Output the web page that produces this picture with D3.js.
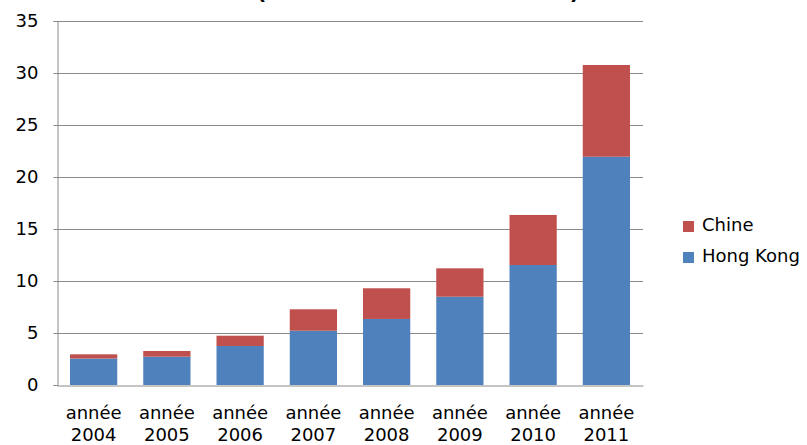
<!DOCTYPE html>
<html>
<head>
<meta charset="utf-8">
<script src="https://cdn.jsdelivr.net/npm/d3@7"></script>
<style>
  html, body { margin: 0; padding: 0; background: #fff; }
  svg { display: block; }
  text { font-family: "DejaVu Sans", sans-serif; fill: #000; }
</style>
</head>
<body>
<svg id="chart" width="807" height="445"></svg>
<script>
// Categories and stacked series values
const years = ["2004", "2005", "2006", "2007", "2008", "2009", "2010", "2011"];
const hongKong = [2.55, 2.72, 3.75, 5.22, 6.35, 8.49, 11.54, 21.95];
const chine    = [0.40, 0.55, 0.99, 2.06, 2.95, 2.73, 4.81, 8.82];
const yTicks   = [0, 5, 10, 15, 20, 25, 30, 35];
const seriesNames = ["Hong Kong", "Chine"];
const seriesColors = { "Hong Kong": "#4F81BD", "Chine": "#C0504D" };
const titleText = "(en milliards de dollars US)";

const svg = d3.select("#chart");
const margin = { left: 57, right: 164, top: 21, bottom: 60 };
const W = 807, H = 445;

const rows = years.map((y, i) => ({ year: y, "Hong Kong": hongKong[i], "Chine": chine[i] }));
const stacked = d3.stack().keys(seriesNames)(rows);

const x = d3.scaleBand()
  .domain(years)
  .range([margin.left, W - margin.right])
  .paddingInner(0.355)
  .paddingOuter(0.1775);

const y = d3.scaleLinear()
  .domain([0, 35])
  .range([H - margin.bottom, margin.top]);

// Title (mostly above the visible area)
svg.append("text")
  .attr("x", 418).attr("y", -1)
  .attr("text-anchor", "middle")
  .style("font-weight", "bold")
  .style("font-size", "21px")
  .text(titleText);

// Horizontal gridlines
svg.append("g")
  .selectAll("line")
  .data(yTicks.filter(t => t > 0))
  .join("line")
  .attr("x1", margin.left).attr("x2", W - margin.right)
  .attr("y1", d => Math.round(y(d)) + 0.5).attr("y2", d => Math.round(y(d)) + 0.5)
  .attr("stroke", "#8a8a8a").attr("stroke-width", 1);

// Y axis
const yAxis = svg.append("g")
  .attr("transform", `translate(${margin.left + 0.5},0)`)
  .call(d3.axisLeft(y).tickValues(yTicks).tickSize(4).tickPadding(15));
yAxis.select(".domain").attr("stroke", "#8a8a8a");
yAxis.selectAll(".tick line").attr("stroke", "#8a8a8a");
yAxis.selectAll(".tick text")
  .style("font-family", "'DejaVu Sans', sans-serif")
  .style("font-size", "18px")
  .attr("fill", "#000");

// Stacked bars
svg.append("g")
  .selectAll("g")
  .data(stacked)
  .join("g")
  .attr("fill", d => seriesColors[d.key])
  .selectAll("rect")
  .data(d => d)
  .join("rect")
  .attr("x", d => x(d.data.year))
  .attr("width", x.bandwidth())
  .attr("y", d => y(d[1]))
  .attr("height", d => y(d[0]) - y(d[1]));

// X axis baseline
const xAxis = svg.append("g")
  .attr("transform", `translate(0,${Math.round(y(0)) + 0.5})`)
  .call(d3.axisBottom(x).tickSize(0).tickFormat(""));
xAxis.select(".domain").attr("stroke", "#8a8a8a");

// Category labels on two lines
const lbl = svg.append("g");
years.forEach(yr => {
  const cx = x(yr) + x.bandwidth() / 2;
  const t = lbl.append("text")
    .attr("text-anchor", "middle")
    .style("font-size", "18px");
  t.append("tspan").attr("x", cx).attr("y", 419).text("année");
  t.append("tspan").attr("x", cx).attr("y", 441).text(yr);
});

// Legend
const legendItems = ["Chine", "Hong Kong"];
const legend = svg.append("g");
legendItems.forEach((name, i) => {
  const ly = 231 + i * 31;
  legend.append("rect")
    .attr("x", 683).attr("y", ly - 10)
    .attr("width", 11).attr("height", 11)
    .attr("fill", seriesColors[name]);
  legend.append("text")
    .attr("x", 702).attr("y", ly)
    .style("font-size", "18px")
    .text(name);
});
</script>
</body>
</html>
